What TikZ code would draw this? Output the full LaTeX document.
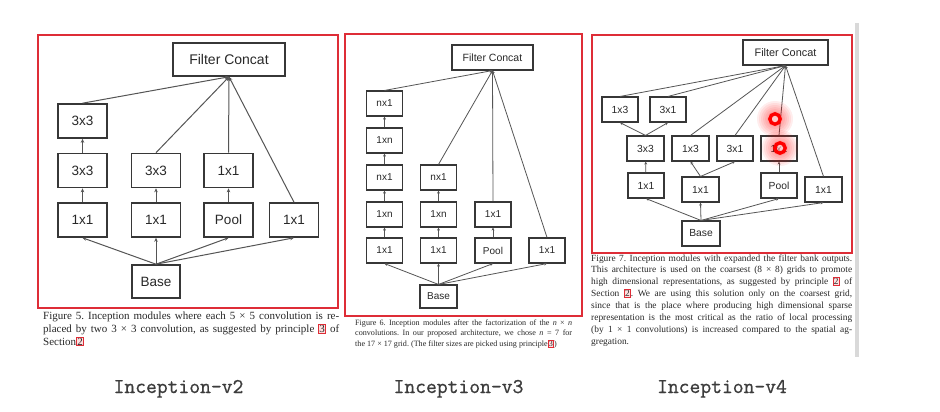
\documentclass[tikz,border=0pt]{standalone}
\usepackage{fontspec}
\setmainfont{Liberation Serif}
\newfontfamily\arialf{Liberation Sans}
\newfontfamily\lblfont{Latin Modern Mono}[FakeBold=0.8]
\usetikzlibrary{arrows.meta}
\definecolor{redf}{RGB}{222,45,55}
\definecolor{boxc}{RGB}{55,55,55}
\definecolor{linec}{RGB}{85,85,85}
\definecolor{txtc}{RGB}{40,40,40}
\definecolor{capc}{RGB}{40,40,40}
\definecolor{lblc}{RGB}{60,60,60}
\newcommand\refbx[1]{{\setlength\fboxsep{0.4pt}\setlength\fboxrule{0.7pt}\fcolorbox{redf}{red!12}{#1}}}
\frenchspacing
\begin{document}
\begin{tikzpicture}[x=1pt,y=-1pt,
 boxA/.style={draw=boxc,line width=1.6pt,minimum width=49pt,minimum height=34pt,inner sep=0pt,font=\arialf\fontsize{13.5}{14}\selectfont,text=txtc},
 boxB/.style={draw=boxc,line width=1.1pt,minimum width=36pt,minimum height=25pt,inner sep=0pt,font=\arialf\fontsize{10}{11}\selectfont,text=txtc},
 boxC/.style={boxB,font=\arialf\fontsize{10.3}{11}\selectfont},
 lnA/.style={draw=linec,line width=1pt,-{Stealth[length=4pt,width=3.5pt]}},
 lnB/.style={draw=linec,line width=0.8pt,-{Stealth[length=3pt,width=2.8pt]}},
 frame/.style={draw=redf,line width=2.2pt},
 captext/.style={anchor=base west,inner sep=0pt,text=capc},
 lbl/.style={anchor=base,inner sep=0pt,text=lblc,font=\lblfont\fontsize{21}{21}\selectfont}
]
\useasboundingbox (0,0) rectangle (940,412);
\fill[white] (0,0) rectangle (940,412);
% scrollbar
\fill[black!15] (855,23) rectangle (859,357);

% ---------------- Panel 1 ----------------
\draw[frame] (38,35) rectangle (338,308);
\node[boxA,minimum width=112pt,minimum height=33pt,font=\arialf\fontsize{14}{15}\selectfont] (fc1) at (229,59.5) {Filter Concat};
\node[boxA] (p1a) at (82.5,121) {3x3};
\node[boxA] (p1b) at (82.5,170.5) {3x3};
\node[boxA] (p1c) at (82.5,220) {1x1};
\node[boxA] (p1d) at (156,170.5) {3x3};
\node[boxA] (p1e) at (156,220) {1x1};
\node[boxA] (p1f) at (228.5,170.5) {1x1};
\node[boxA] (p1g) at (228.5,220) {Pool};
\node[boxA] (p1h) at (294,220) {1x1};
\node[boxA,minimum width=48pt,minimum height=33pt] (base1) at (156,281.5) {Base};
\foreach \n in {p1a,p1d,p1f,p1h} \draw[lnA] (\n.north) -- (fc1.south);
\draw[lnA] (p1c) -- (p1b);
\draw[lnA] (p1b) -- (p1a);
\draw[lnA] (p1e) -- (p1d);
\draw[lnA] (p1g) -- (p1f);
\foreach \n in {p1c,p1e,p1g,p1h} \draw[lnA] (base1.north) -- (\n.south);
\node[captext] (cap1) at (43,319) {\parbox[t]{296pt}{\fontsize{11}{13}\selectfont
\makebox[296pt][s]{Figure 5. Inception modules where each 5 × 5 convolution is re-}\par
\makebox[296pt][s]{placed by two 3 × 3 convolution, as suggested by principle \refbx{3} of}\par
Section\refbx{2}}};

% ---------------- Panel 2 ----------------
\draw[frame] (345,34) rectangle (582,316);
\node[boxB,minimum width=81pt,font=\arialf\fontsize{10.5}{11}\selectfont] (fc2) at (492.5,57.5) {Filter Concat};
\node[boxB] (q1a) at (384.5,103.5) {nx1};
\node[boxB] (q1b) at (384.5,140.5) {1xn};
\node[boxB] (q1c) at (384.5,177.5) {nx1};
\node[boxB] (q1d) at (384.5,214.5) {1xn};
\node[boxB] (q1e) at (384.5,250.5) {1x1};
\node[boxB] (q2c) at (438.5,177.5) {nx1};
\node[boxB] (q2d) at (438.5,214.5) {1xn};
\node[boxB] (q2e) at (438.5,250.5) {1x1};
\node[boxB] (q3d) at (493,214.5) {1x1};
\node[boxB] (q3e) at (493,250.5) {Pool};
\node[boxB] (q4e) at (547,250.5) {1x1};
\node[boxB,minimum width=37pt,minimum height=23pt] (base2) at (438.5,296.5) {Base};
\foreach \n in {q1a,q2c,q3d,q4e} \draw[lnB] (\n.north) -- (fc2.south);
\draw[lnB] (q1e) -- (q1d);
\draw[lnB] (q1d) -- (q1c);
\draw[lnB] (q1c) -- (q1b);
\draw[lnB] (q1b) -- (q1a);
\draw[lnB] (q2e) -- (q2d);
\draw[lnB] (q2d) -- (q2c);
\draw[lnB] (q3e) -- (q3d);
\foreach \n in {q1e,q2e,q3e,q4e} \draw[lnB] (base2.north) -- (\n.south);
\node[captext] (cap2) at (355,325.5) {\parbox[t]{217pt}{\fontsize{8.1}{10.3}\selectfont
\makebox[217pt][s]{Figure 6. Inception modules after the factorization of the \textit{n} × \textit{n}}\par
\makebox[217pt][s]{convolutions. In our proposed architecture, we chose \textit{n} = 7 for}\par
the 17 × 17 grid. (The filter sizes are picked using principle\refbx{3})}};

% ---------------- Panel 3 ----------------
\draw[frame] (592,35) rectangle (852,253);
\node[boxC,minimum width=85pt,font=\arialf\fontsize{10.9}{11}\selectfont] (fc3) at (785.5,52.5) {Filter Concat};
\node[boxC] (r1) at (620,109.5) {1x3};
\node[boxC] (r2) at (668,109.5) {3x1};
\node[boxC,minimum width=37pt] (r3) at (645.5,148.5) {3x3};
\node[boxC,minimum width=37pt] (r4) at (690.5,148.5) {1x3};
\node[boxC] (r5) at (735,148.5) {3x1};
\node[boxC] (r6) at (779,148.5) {1x1};
\node[boxC] (r7) at (646,185.5) {1x1};
\node[boxC,minimum width=37pt] (r8) at (700.5,189.5) {1x1};
\node[boxC] (r9) at (779,185.5) {Pool};
\node[boxC,minimum width=37pt] (r10) at (823.5,189.5) {1x1};
\node[boxC,minimum width=38pt] (base3) at (701,233.5) {Base};
\foreach \n in {r1,r2,r4,r5,r6,r10} \draw[lnB] (\n.north) -- (fc3.south);
\draw[lnB] (r3.north) -- (r1.south);
\draw[lnB] (r3.north) -- (r2.south);
\draw[lnB] (r8.north) -- (r4.south);
\draw[lnB] (r8.north) -- (r5.south);
\draw[lnB] (r7) -- (r3);
\draw[lnB] (r9) -- (r6);
\foreach \n in {r7,r8,r9,r10} \draw[lnB] (base3.north) -- (\n.south);
% highlight markers
\coordinate (g1) at (775,119);
\coordinate (g2) at (780,148);
\foreach \g in {g1,g2}{
  \foreach \r in {18,16,14,12,10,8} \fill[red,opacity=0.07] (\g) circle (\r);
  \fill[white,opacity=0.45] (\g) circle (3.2);
  \draw[red,line width=3.4pt] (\g) circle (5.2);
}
\node[captext] (cap3) at (591,261) {\parbox[t]{261pt}{\fontsize{9.4}{11.9}\selectfont
\makebox[261pt][s]{Figure 7. Inception modules with expanded the filter bank outputs.}\par
\makebox[261pt][s]{This architecture is used on the coarsest (8 × 8) grids to promote}\par
\makebox[261pt][s]{high dimensional representations, as suggested by principle \refbx{2} of}\par
\makebox[261pt][s]{Section \refbx{2}. We are using this solution only on the coarsest grid,}\par
\makebox[261pt][s]{since that is the place where producing high dimensional sparse}\par
\makebox[261pt][s]{representation is the most critical as the ratio of local processing}\par
\makebox[261pt][s]{(by 1 × 1 convolutions) is increased compared to the spatial ag-}\par
gregation.}};

% ---------------- Labels ----------------
\node[lbl] (l2) at (178.5,393) {Inception-v2};
\node[lbl] (l3) at (458.5,393) {Inception-v3};
\node[lbl] (l4) at (722,393) {Inception-v4};
\end{tikzpicture}
\end{document}
